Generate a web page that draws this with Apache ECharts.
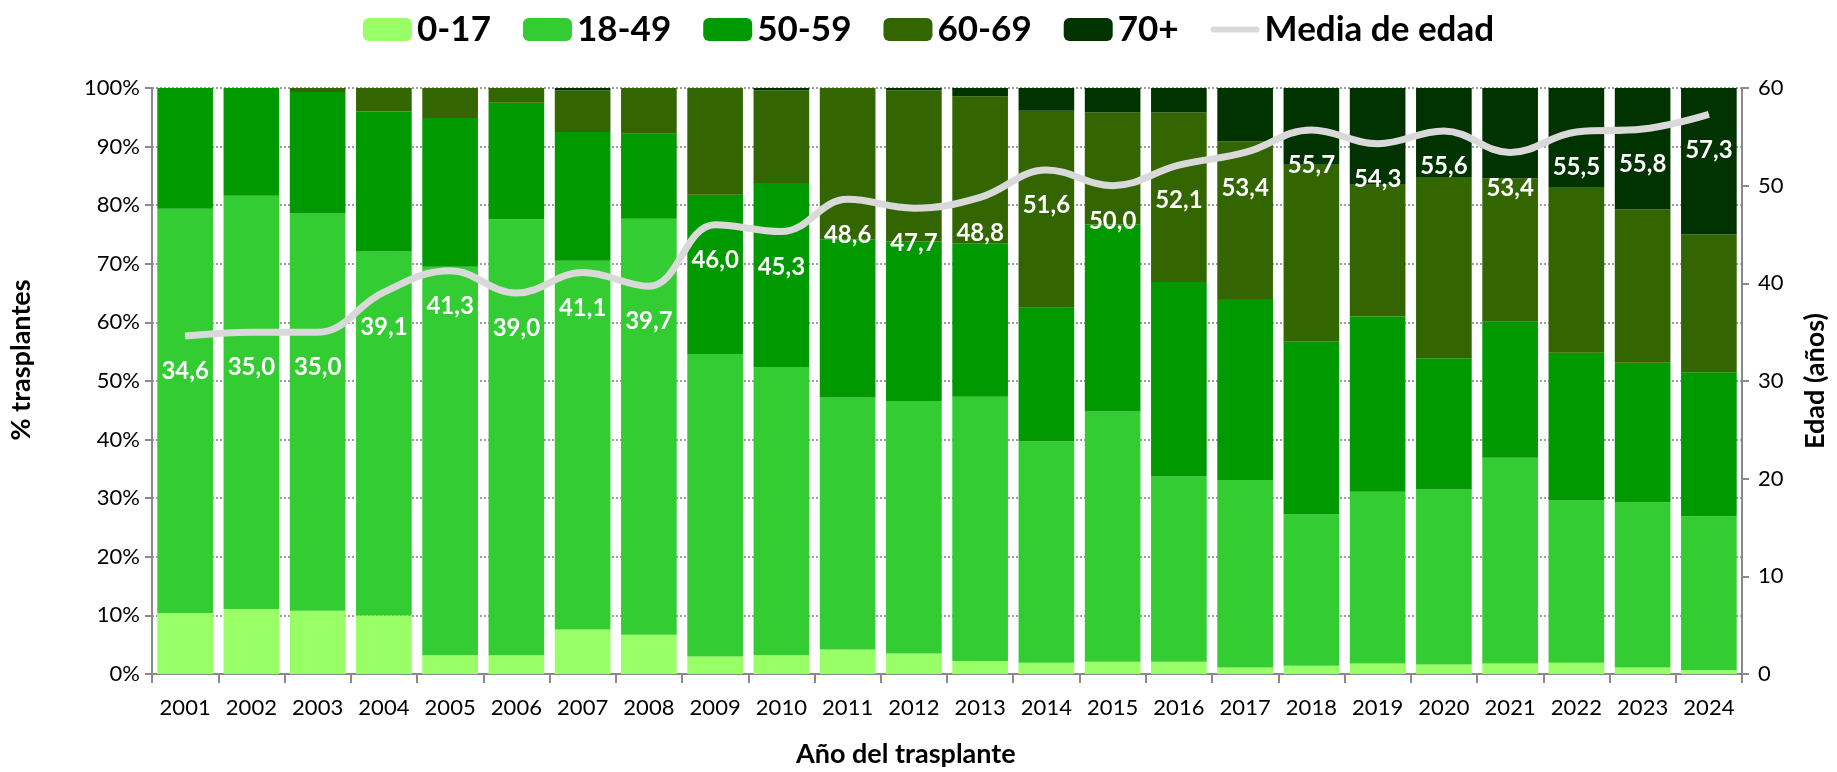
<!DOCTYPE html>
<html>

<head>
    <meta charset="utf-8">
    <script src="https://cdn.jsdelivr.net/npm/echarts@6/dist/echarts.min.js"></script>
    <style>
        html, body { margin: 0; padding: 0; background: #fff; }
    </style>
</head>

<body>
    <div id="main" style="width: 1837px;height:772px;"></div>
    <script type="text/javascript">
        // datos
        var years = ['2001', '2002', '2003', '2004', '2005', '2006', '2007', '2008', '2009', '2010', '2011', '2012',
            '2013', '2014', '2015', '2016', '2017', '2018', '2019', '2020', '2021', '2022', '2023', '2024'];
        var grupo0_17 = [10.4, 11.1, 10.8, 10.0, 3.2, 3.2, 7.6, 6.7, 3.0, 3.2, 4.2, 3.5,
            2.2, 1.9, 2.1, 2.1, 1.1, 1.4, 1.8, 1.6, 1.8, 1.9, 1.1, 0.7];
        var grupo18_49 = [69.0, 70.5, 67.8, 62.1, 66.3, 74.4, 62.9, 71.0, 51.6, 49.2, 43.0, 43.1,
            45.1, 37.8, 42.7, 31.6, 32.0, 25.8, 29.3, 29.9, 35.1, 27.7, 28.2, 26.2];
        var grupo50_59 = [20.6, 18.4, 20.7, 23.9, 25.4, 19.9, 22.0, 14.5, 27.2, 31.4, 27.0, 27.2,
            26.2, 22.8, 31.9, 33.2, 30.9, 29.6, 29.9, 22.4, 23.2, 25.2, 23.8, 24.6];
        var grupo60_69 = [0, 0, 0.7, 4.0, 5.1, 2.5, 7.1, 7.8, 18.2, 15.8, 25.8, 25.8,
            25.1, 33.6, 19.1, 28.9, 26.9, 30.1, 22.5, 30.9, 24.5, 28.3, 26.2, 23.5];
        var grupo70 = [0, 0, 0, 0, 0, 0, 0.4, 0, 0, 0.4, 0, 0.4,
            1.4, 3.9, 4.2, 4.2, 9.1, 13.1, 16.5, 15.2, 15.4, 16.9, 20.7, 25.0];
        var mediaEdad = [34.6, 35.0, 35.0, 39.1, 41.3, 39.0, 41.1, 39.7, 46.0, 45.3, 48.6, 47.7,
            48.8, 51.6, 50.0, 52.1, 53.4, 55.7, 54.3, 55.6, 53.4, 55.5, 55.8, 57.3];

        var fuente = 'Lato, "Noto Sans", sans-serif';
        var myChart = echarts.init(document.getElementById('main'));

        function barra(nombre, datos, color) {
            return {
                name: nombre,
                type: 'bar',
                stack: 'total',
                barCategoryGap: '16%',
                data: datos,
                itemStyle: { color: color }
            };
        }

        option = {
            animation: false,
            textStyle: { fontFamily: fuente },
            legend: {
                top: 7,
                left: 358,
                itemWidth: 49,
                itemHeight: 23,
                itemGap: 32,
                textStyle: { fontSize: 35, fontWeight: 'bold', color: '#000', fontFamily: fuente },
                data: ['0-17', '18-49', '50-59', '60-69', '70+', {
                    name: 'Media de edad',
                    icon: 'path://M3,0 L47,0 A3,3 0 0 1 47,6 L3,6 A3,3 0 0 1 3,0 Z'
                }]
            },
            grid: { left: 152, right: 91, top: 88, bottom: 98 },
            xAxis: {
                type: 'category',
                data: years,
                axisLine: { lineStyle: { color: '#898989', width: 2 } },
                axisTick: { show: true, length: 9, lineStyle: { color: '#898989', width: 2 } },
                axisLabel: { color: '#000', fontSize: 22, margin: 23, interval: 0 }
            },
            yAxis: [{
                type: 'value',
                min: 0,
                max: 100,
                interval: 10,
                name: '% trasplantes',
                nameLocation: 'middle',
                nameRotate: 90,
                nameGap: 117,
                nameTextStyle: { fontSize: 27, fontWeight: 'bold', color: '#000', padding: [0, 0, 0, 42] },
                axisLine: { show: true, lineStyle: { color: '#898989', width: 2 } },
                axisTick: { show: true, length: 7, lineStyle: { color: '#898989', width: 2 } },
                axisLabel: { color: '#000', fontSize: 22, margin: 12, formatter: '{value}%' },
                splitLine: { lineStyle: { color: '#a0a0a0', type: 'dotted', width: 2 } }
            }, {
                type: 'value',
                min: 0,
                max: 60,
                interval: 10,
                name: 'Edad (años)',
                nameLocation: 'middle',
                nameRotate: 90,
                nameGap: 60,
                nameTextStyle: { fontSize: 27, fontWeight: 'bold', color: '#000' },
                axisLine: { show: true, lineStyle: { color: '#898989', width: 2 } },
                axisTick: { show: true, length: 7, lineStyle: { color: '#898989', width: 2 } },
                axisLabel: { color: '#000', fontSize: 22, margin: 16 },
                splitLine: { show: false }
            }],
            title: {
                text: 'Año del trasplante',
                left: 796,
                top: 741,
                padding: 0,
                textStyle: { fontSize: 27, fontWeight: 'bold', color: '#000', fontFamily: fuente }
            },
            series: [
                barra('0-17', grupo0_17, '#99ff66'),
                barra('18-49', grupo18_49, '#33cc33'),
                barra('50-59', grupo50_59, '#009900'),
                barra('60-69', grupo60_69, '#336600'),
                barra('70+', grupo70, '#003300'),
                {
                    name: 'Media de edad',
                    type: 'line',
                    yAxisIndex: 1,
                    data: mediaEdad,
                    smooth: 0.4,
                    symbol: 'circle',
                    symbolSize: 1,
                    showSymbol: true,
                    z: 5,
                    lineStyle: { color: '#d9d9d9', width: 7 },
                    itemStyle: { color: '#d9d9d9' },
                    label: {
                        show: true,
                        position: 'bottom',
                        distance: 23,
                        color: '#fff',
                        fontSize: 24,
                        fontWeight: 'bold',
                        fontFamily: fuente,
                        formatter: function (p) {
                            return p.value.toFixed(1).replace('.', ',');
                        }
                    }
                }
            ]
        };

        myChart.setOption(option);
    </script>
</body>

</html>
